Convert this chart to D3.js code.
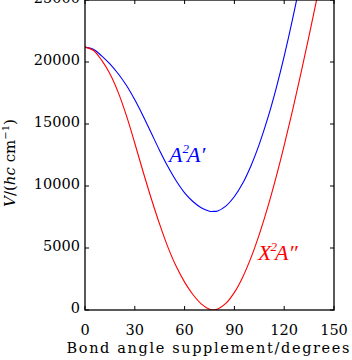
<!DOCTYPE html>
<html><head><meta charset="utf-8">
<script src="https://cdn.jsdelivr.net/npm/d3@7"></script>
<style>body{margin:0;background:#fff}svg{display:block}</style>
</head><body>
<svg id="chart" width="352" height="360"></svg>
<script>
const angles = [0,5,10,15,20,25,30,35,40,45,50,55,60,65,70,75,77,80,85,90,95,100,105,110,115,120,125,130,135,140,145];
const upperState = [21200,21030,20500,19850,19050,18100,16950,15650,14250,12850,11550,10400,9450,8750,8250,7970,7950,7990,8400,9150,10220,11640,13380,15430,17800,20470,23430,26690,30220,34030,38100];
const groundState = [21200,20950,20150,19050,17550,15650,13450,11150,8950,6900,5050,3500,2250,1250,500,60,0,80,550,1420,2650,4220,6100,8250,10650,13280,16080,19050,22130,25320,28580];
const xTicks = [0,30,60,90,120,150];
const yTicks = [0,5000,10000,15000,20000,25000];

const svg = d3.select("#chart");
const L = 85, R = 334, T = 0, B = 310;
const x = d3.scaleLinear().domain([0,150]).range([L,R]);
const y = d3.scaleLinear().domain([0,25000]).range([B,T]);
const font = "'DejaVu Serif', serif";

svg.append("defs").append("clipPath").attr("id","clip")
  .append("rect").attr("x",L).attr("y",T).attr("width",R-L).attr("height",B-T);

const line = d3.line().x((d,i)=>x(angles[i])).y(d=>y(d)).curve(d3.curveCatmullRom.alpha(0.5));
const g = svg.append("g").attr("clip-path","url(#clip)");
g.append("path").datum(upperState).attr("d",line).attr("fill","none").attr("stroke","#0000ff").attr("stroke-width",1.1);
g.append("path").datum(groundState).attr("d",line).attr("fill","none").attr("stroke","#ff0000").attr("stroke-width",1.1);

// frame
svg.append("rect").attr("x",L).attr("y",T).attr("width",R-L).attr("height",B-T)
  .attr("fill","none").attr("stroke","#000").attr("stroke-width",1.3);
const tl = 4;
xTicks.forEach(t=>{
  svg.append("line").attr("x1",x(t)).attr("x2",x(t)).attr("y1",B).attr("y2",B-tl).attr("stroke","#000");
  svg.append("line").attr("x1",x(t)).attr("x2",x(t)).attr("y1",T).attr("y2",T+tl).attr("stroke","#000");
  svg.append("text").attr("x",x(t)).attr("y",335).attr("text-anchor","middle")
    .attr("font-family",font).attr("font-size",14.5).text(t);
});
yTicks.forEach(t=>{
  svg.append("line").attr("x1",L).attr("x2",L+tl).attr("y1",y(t)).attr("y2",y(t)).attr("stroke","#000");
  svg.append("line").attr("x1",R).attr("x2",R-tl).attr("y1",y(t)).attr("y2",y(t)).attr("stroke","#000");
  svg.append("text").attr("x",80).attr("y",y(t)+3).attr("text-anchor","end")
    .attr("font-family",font).attr("font-size",14.5).text(t);
});

// axis titles
svg.append("text").attr("x",208).attr("y",353).attr("text-anchor","middle")
  .attr("font-family",font).attr("font-size",14.5).attr("textLength",283)
  .text("Bond angle supplement/degrees");
const yl = svg.append("text").attr("transform","translate(15,163) rotate(-90)").attr("text-anchor","middle")
  .attr("font-family",font).attr("font-size",15);
yl.append("tspan").attr("font-style","italic").text("V");
yl.append("tspan").text("/(");
yl.append("tspan").attr("font-style","italic").text("hc");
yl.append("tspan").text(" cm");
yl.append("tspan").attr("font-size",10).attr("dy",-6).text("\u22121");
yl.append("tspan").attr("dy",6).text(")");

// state labels
const serif = "'Liberation Serif', 'Times New Roman', serif";
const a = svg.append("text").attr("x",169).attr("y",162).attr("font-family",serif)
  .attr("font-style","italic").attr("font-size",22).attr("fill","#0000ff");
a.append("tspan").text("A");
a.append("tspan").attr("font-size",13).attr("dy",-9).attr("dx",0).text("2");
a.append("tspan").attr("dy",9).attr("dx",-2).text("A\u2032");
const b = svg.append("text").attr("x",258).attr("y",260).attr("font-family",serif)
  .attr("font-style","italic").attr("font-size",22).attr("fill","#ff0000");
b.append("tspan").text("X");
b.append("tspan").attr("font-size",13).attr("dy",-9).attr("dx",-1).text("2");
b.append("tspan").attr("dy",9).attr("dx",-2).text("A\u2033");
</script>
</body></html>
